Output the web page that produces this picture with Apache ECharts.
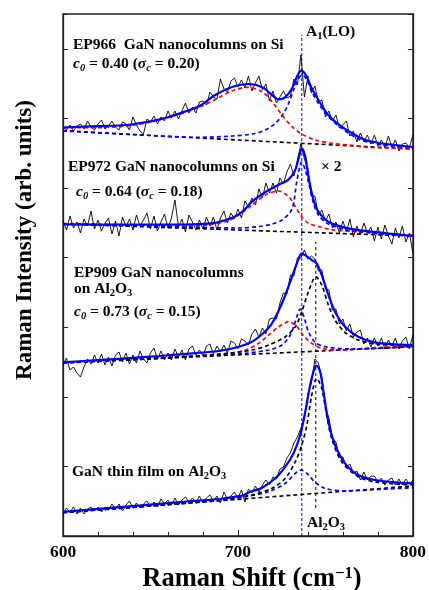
<!DOCTYPE html>
<html><head><meta charset="utf-8">
<script src="https://cdn.jsdelivr.net/npm/echarts@6/dist/echarts.min.js"></script>
<style>html,body{margin:0;padding:0;background:#fff}#c{width:429px;height:590px}</style>
</head><body><div id="c"></div>
<script>
// ---- measured spectra (Raman shift in cm-1, intensity in arbitrary units) ----
const ramanShift = [600,602,604,606,608,610,612,614,616,618,620,622,624,626,628,630,632,634,636,638,640,642,644,646,648,650,652,654,656,658,660,662,664,666,668,670,672,674,676,678,680,682,684,686,688,690,692,694,696,698,700,702,704,706,708,710,712,714,716,718,720,722,724,726,728,730,732,734,736,738,740,742,744,746,748,750,752,754,756,758,760,762,764,766,768,770,772,774,776,778,780,782,784,786,788,790,792,794,796,798,800];
const ep966 = [409,406,411,405,410,412,407,415,409,406,412,416,407,410,415,409,406,414,412,406,419,411,405,402,417,414,420,412,419,415,425,418,425,417,425,433,423,429,423,434,435,431,444,439,437,457,447,444,455,458,449,456,448,460,445,453,460,446,452,435,445,433,439,445,438,440,457,451,481,439,460,443,450,434,436,419,425,415,421,408,411,415,400,405,394,403,395,401,392,401,390,396,388,400,389,396,385,392,393,388,401];
const ep972 = [315,306,320,308,314,303,317,310,325,307,316,305,313,318,302,315,300,319,309,317,306,321,310,316,323,307,320,305,314,322,308,318,336,309,317,304,321,314,306,316,307,319,310,319,306,318,325,313,323,317,327,318,335,329,338,331,347,338,353,343,353,343,358,352,364,372,360,376,392,377,367,340,340,321,326,315,322,308,314,303,315,304,317,299,310,301,313,303,309,295,309,297,311,300,292,308,298,310,294,303,283];
const ep909 = [171,178,166,169,163,159,169,177,172,181,173,182,171,179,170,181,184,174,183,172,181,173,185,177,173,183,188,177,185,176,183,176,187,179,186,176,187,190,181,186,180,190,192,182,190,184,191,183,195,193,187,197,195,191,202,207,199,208,202,217,218,217,233,243,242,261,260,278,278,286,277,280,277,265,266,247,246,226,227,212,217,205,212,199,204,206,192,198,189,198,190,198,187,196,190,198,187,195,199,187,201];
const thinFilm = [22,28,24,29,22,28,22,27,29,25,29,24,29,26,32,27,32,25,31,35,28,33,28,32,35,29,34,29,37,32,36,31,38,31,36,39,34,38,33,40,33,38,41,35,40,33,44,37,40,44,38,46,34,47,43,50,44,51,56,51,59,57,67,69,78,83,93,99,108,117,142,153,177,173,158,129,118,98,94,80,79,69,72,63,65,56,64,56,60,60,54,58,51,56,58,51,57,51,57,52,56];

// ---- fitted curves and components, [shift, intensity] ----
const ep966Fit = [[600,408.5],[620,409.9],[636,411],[650,414.7],[660,418.8],[670,424.6],[678,430],[687,441],[697,449.3],[706,452],[714,448.7],[719.5,441],[723.3,436.7],[727,438.7],[731,447.7],[733.7,459.3],[736.2,465.3],[738.8,461],[742.2,447.7],[746,436],[751.7,421],[759.3,409.3],[768.8,399.3],[774.4,395.3],[785,392],[800,389]];
const ep966Broad = [[600,408.5],[617,408.3],[636,410],[651,414.3],[665,421],[678,429],[687.3,436.7],[696.8,445.3],[705.3,448.7],[713.8,444.3],[719.5,434.3],[725.2,421],[730.9,409.3],[736.5,402],[744.1,396],[753.6,392.7],[763.1,391],[774.4,388.7],[800,387.5]];
const ep966LO = [[600,405.5],[640,401.5],[677.8,398.7],[696.8,400],[708.1,402],[715.7,406],[721.4,412.7],[726.1,422.7],[729,432.7],[731.8,446],[734.7,457.7],[737,461],[739.4,456],[742.2,444.3],[746,432.7],[751.7,419.3],[759.3,407.7],[768.8,397],[774.4,394],[785,390.5],[800,388]];
const ep966Base = [[600,405],[800,387]];

const ep972Fit = [[600,311.7],[640,311.3],[670,311.5],[685,312.7],[690,314.5],[697,318.5],[703,325],[708,334.3],[716,344.3],[723,351],[729,356.7],[732.8,366],[734.7,377.7],[736.5,387.7],[738.5,379.3],[740.3,359.3],[743.2,336],[746,324.3],[751.7,314.3],[763,307.7],[782,303.3],[800,300]];
const ep972Broad = [[600,312.5],[640,311],[670,310],[685,311.5],[696.8,317],[708.1,331],[715.7,341],[723.3,345],[729,339.3],[732.8,329.3],[736.5,319.3],[740.3,312.7],[746,309.5],[753,306.5],[770,304],[800,300.5]];
const ep972LO = [[600,312.3],[660,309.5],[700,308],[712,309.5],[719.5,312],[725.2,316],[730.9,327],[733.7,355],[736.5,374],[738.5,366],[740.3,354],[743.2,332.7],[746,321],[749.8,314],[753.6,310.5],[765,305],[800,300.5]];
const ep972Base = [[600,312],[800,300]];

const ep909Fit = [[600,173.6],[636,177.7],[655,180],[674,182.7],[689,185],[700.6,189.3],[708.1,194.3],[713.8,201.7],[719.5,212.7],[725.2,232.7],[729.9,254.3],[733.7,272.7],[736.5,282.7],[738.8,280.3],[742.2,276],[745,272.7],[747.9,261],[751.7,241],[755.5,224.3],[761.2,209.3],[768.75,199.3],[778.2,193.7],[789.6,191.7],[800,191]];
const ep909Broad = [[600,173.5],[660,178.5],[694.9,182.7],[704.4,186],[711.9,192.7],[717.6,201],[723.3,209.3],[729,214.3],[733.7,209.3],[737.5,200.3],[742.2,192.7],[747.9,187.7],[757.4,186],[775,188],[800,190]];
const ep909LO = [[600,173.5],[689,181],[704.4,182.7],[717.6,186],[725.2,191],[729.9,201],[732.8,214.3],[735.6,227],[738,217.7],[740.3,204.3],[744.1,193.7],[749.8,189.3],[765,187],[800,189.3]];
const ep909Sapphire = [[600,173.2],[650,177.2],[689,181.7],[708.1,186],[717.6,191],[727.1,199.3],[732.8,209.3],[736.5,224.3],[740.3,244.3],[744.5,259.3],[747.9,251],[751.7,231],[755.5,216],[761.2,203.7],[768.75,196],[780,191.7],[800,190]];
const ep909Base = [[600,173],[800,189.3]];

const filmFit = [[600,24.2],[636,29.3],[674,35],[689.2,37],[702.4,40.3],[704.4,42],[708,44.7],[713.8,48.3],[721.4,57.7],[727.1,69.3],[731.8,82.7],[735.6,101],[738.5,124.3],[741.3,151],[743.75,167.7],[745,170.3],[747,164.3],[748.9,144.3],[751.7,114.3],[755.5,91],[761.2,72.7],[768.75,61],[778.2,56],[789.6,53.7],[800,52.7]];
const filmLO = [[600,23.5],[660,31.5],[690,35.5],[704.4,39.3],[717.6,44.3],[727.1,52.7],[732.8,62.7],[736.2,66],[739.4,62.7],[744.1,53.7],[749.8,47.7],[761.2,45],[780,46.5],[800,48.3]];
const filmSapphire = [[600,23.5],[650,30],[689,36],[708.1,41],[719.5,47.7],[727.1,57.7],[732.8,74.3],[736.5,91],[739.4,111],[742.2,141],[745,157.7],[747.9,147.7],[750.7,121],[753.6,97.7],[759.3,74.3],[768.75,59.3],[780,53.7],[800,51]];
const filmBase = [[600,23.3],[800,50]];

// reference lines
const a1LOLine = [[736.5,0],[736.5,501]];
const al2o3Line = [[744.5,28],[744.5,294]];

const xTicks = [600,700,800];

// ---- chart ----
const FONT = '"Liberation Serif","Times New Roman",serif';
const BLUE = '#0000ff', RED = '#ff0000', BLACK = '#000000';
const DASH = [4,3];
function pairs(xs, ys){ return xs.map((x,i)=>[x, ys[i]]); }
function line(data, color, width, type, smooth, z){
  return {type:'line', data:data, showSymbol:false, symbol:'none', silent:true, z:z||2,
    smooth: smooth ? 0.3 : false,
    lineStyle:{color:color, width:width, type:type||'solid'}};
}
const series = [
  line(a1LOLine, BLUE, 1, [3,2], false, 1),
  line(al2o3Line, BLACK, 1, [3,3], false, 1),
  line(pairs(ramanShift, ep966), BLACK, 0.9, 'solid', false, 2),
  line(pairs(ramanShift, ep972), BLACK, 0.9, 'solid', false, 2),
  line(pairs(ramanShift, ep909), BLACK, 0.9, 'solid', false, 2),
  line(pairs(ramanShift, thinFilm), BLACK, 0.9, 'solid', false, 2),
  line(ep966Base, BLACK, 1.6, DASH, false, 3),
  line(ep972Base, BLACK, 1.6, DASH, false, 3),
  line(ep909Base, BLACK, 1.6, DASH, false, 3),
  line(filmBase, BLACK, 1.6, DASH, false, 3),
  line(ep966Broad, RED, 1.7, DASH, true, 4),
  line(ep966LO, BLUE, 1.7, DASH, true, 4),
  line(ep972Broad, RED, 1.7, DASH, true, 4),
  line(ep972LO, BLUE, 1.7, DASH, true, 4),
  line(ep909Broad, RED, 1.7, DASH, true, 4),
  line(ep909LO, BLUE, 1.7, DASH, true, 4),
  line(ep909Sapphire, BLACK, 1.7, DASH, true, 4),
  line(filmLO, BLUE, 1.7, DASH, true, 4),
  line(filmSapphire, BLACK, 1.7, DASH, true, 4),
  line(ep966Fit, BLUE, 2.2, 'solid', true, 5),
  line(ep972Fit, BLUE, 2.2, 'solid', true, 5),
  line(ep909Fit, BLUE, 2.2, 'solid', true, 5),
  line(filmFit, BLUE, 2.2, 'solid', true, 5)
];

const FS = 15.5;
const rich = {
  b:{fontFamily:FONT, fontWeight:'bold', fontSize:FS, lineHeight:20, color:'#000'},
  bi:{fontFamily:FONT, fontWeight:'bold', fontStyle:'italic', fontSize:FS, lineHeight:20, color:'#000'},
  sub:{fontFamily:FONT, fontWeight:'bold', fontStyle:'italic', fontSize:10.5, lineHeight:10, verticalAlign:'bottom', color:'#000'},
  subn:{fontFamily:FONT, fontWeight:'bold', fontSize:10.5, lineHeight:10, verticalAlign:'bottom', color:'#000'}
};
function txt(x, y, text){
  return {type:'text', x:x, y:y, silent:true, z:10, style:{text:text, rich:rich, align:'left', verticalAlign:'middle'}};
}
const graphics = [
  txt(73, 45, '{b|EP966  GaN nanocolumns on Si}'),
  txt(73, 64, '{bi|c}{sub|0}{b| = 0.40 (}{bi|σ}{sub|c}{b| = 0.20)}'),
  txt(306, 32, '{b|A}{subn|1}{b|(LO)}'),
  txt(68, 167, '{b|EP972 GaN nanocolumns on Si}'),
  txt(321, 167, '{b|× 2}'),
  txt(76, 192, '{bi|c}{sub|0}{b| = 0.64 (}{bi|σ}{sub|c}{b| = 0.18)}'),
  txt(74, 273, '{b|EP909 GaN nanocolumns}'),
  txt(74, 289, '{b|on Al}{subn|2}{b|O}{subn|3}'),
  txt(74, 312, '{bi|c}{sub|0}{b| = 0.73 (}{bi|σ}{sub|c}{b| = 0.15)}'),
  txt(72, 472, '{b|GaN thin film on Al}{subn|2}{b|O}{subn|3}'),
  txt(307, 523, '{b|Al}{subn|2}{b|O}{subn|3}'),
  {type:'text', x:25, y:240, rotation:Math.PI/2, silent:true,
   style:{text:'Raman Intensity (arb. units)', fontFamily:FONT, fontWeight:'bold', fontSize:23, fill:'#000', align:'center', verticalAlign:'middle'}},
  {type:'text', x:252, y:579, silent:true,
   style:{text:'{t|Raman Shift (cm}{sup|−1}{t|)}', align:'center', verticalAlign:'middle',
     rich:{t:{fontFamily:FONT, fontWeight:'bold', fontSize:26.5, lineHeight:28, color:'#000'},
           sup:{fontFamily:FONT, fontWeight:'bold', fontSize:16.5, lineHeight:14, verticalAlign:'top', color:'#000'}}}}
];

const chart = echarts.init(document.getElementById('c'), null, {renderer:'canvas'});
chart.setOption({
  animation:false,
  backgroundColor:'#fff',
  grid:{left:63, right:14, top:14, bottom:54, show:true, borderColor:'#222', borderWidth:1.3, backgroundColor:'transparent'},
  xAxis:{type:'value', min:600, max:800, interval:100,
    axisLine:{show:true, lineStyle:{color:'#222', width:1.3}},
    axisTick:{show:true, inside:true, length:6, lineStyle:{color:'#222', width:1}},
    minorTick:{show:true, splitNumber:5, length:4, lineStyle:{color:'#222', width:1}},
    splitLine:{show:false}, minorSplitLine:{show:false},
    axisLabel:{fontFamily:FONT, fontWeight:'bold', fontSize:17.5, color:'#000', margin:7,
      formatter:function(v){ return xTicks.indexOf(v) >= 0 ? String(v) : ''; }}},
  yAxis:[
    {type:'value', min:0, max:522, interval:69.6, position:'left',
      axisLine:{show:true, lineStyle:{color:'#222', width:1.3}},
      axisTick:{show:true, inside:true, length:5, lineStyle:{color:'#222'}},
      axisLabel:{show:false}, splitLine:{show:false}},
    {type:'value', min:0, max:522, interval:69.6, position:'right',
      axisLine:{show:true, lineStyle:{color:'#222', width:1.3}},
      axisTick:{show:true, inside:true, length:5, lineStyle:{color:'#222'}},
      axisLabel:{show:false}, splitLine:{show:false}}
  ],
  series:series,
  graphic:graphics
});
</script>
</body></html>
